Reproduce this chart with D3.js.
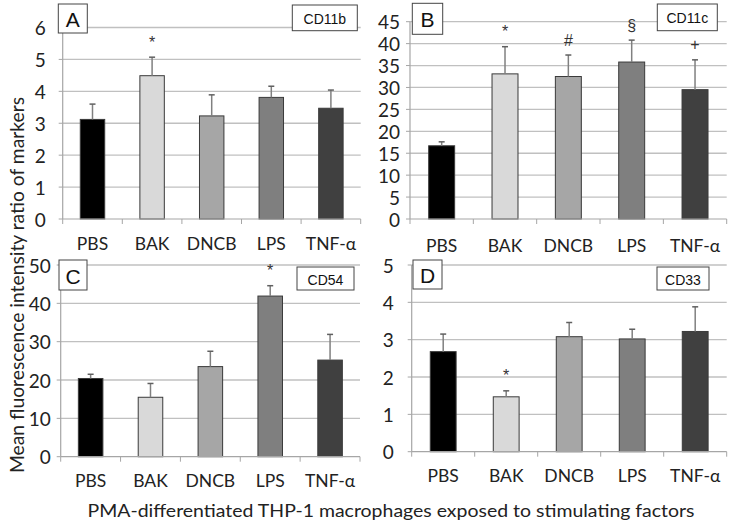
<!DOCTYPE html>
<html><head><meta charset="utf-8">
<script src="https://cdn.jsdelivr.net/npm/d3@7"></script>
<style>body{margin:0;background:#fff}svg{display:block}</style>
</head><body>
<svg id="chart" width="734" height="529"></svg>
<script>
const categories = ["PBS", "BAK", "DNCB", "LPS", "TNF-α"];
const barColors = ["#000000", "#d9d9d9", "#a6a6a6", "#7f7f7f", "#404040"];

const cd11bMean = [3.12, 4.49, 3.23, 3.81, 3.47];
const cd11bErr  = [0.48, 0.58, 0.66, 0.35, 0.57];
const cd11bSig  = ["", "*", "", "", ""];

const cd11cMean = [16.7, 33.1, 32.5, 35.8, 29.5];
const cd11cErr  = [0.9, 6.2, 4.9, 5.0, 6.8];
const cd11cSig  = ["", "*", "#", "§", "+"];

const cd54Mean = [20.4, 15.5, 23.5, 41.9, 25.2];
const cd54Err  = [1.1, 3.6, 4.0, 2.7, 6.7];
const cd54Sig  = ["", "", "", "*", ""];

const cd33Mean = [2.68, 1.47, 3.08, 3.02, 3.22];
const cd33Err  = [0.47, 0.16, 0.38, 0.26, 0.66];
const cd33Sig  = ["", "*", "", "", ""];

const yTicksA = [0, 1, 2, 3, 4, 5, 6];
const yTicksB = [0, 5, 10, 15, 20, 25, 30, 35, 40, 45];
const yTicksC = [0, 10, 20, 30, 40, 50];
const yTicksD = [0, 1, 2, 3, 4, 5];

const yTitle = "Mean fluorescence intensity ratio of markers";
const xTitle = "PMA-differentiated THP-1 macrophages exposed to stimulating factors";

const panels = [
  {letter: "A", marker: "CD11b", mean: cd11bMean, err: cd11bErr, sig: cd11bSig, ticks: yTicksA,
   x0: 62.7, x1: 360.7, yTop: 27.5, y0: 219, lblGap: 17, catDy: 24,
   lbox: [58.3, 4, 29, 29], mbox: [292.3, 5, 65, 25.7]},
  {letter: "B", marker: "CD11c", mean: cd11cMean, err: cd11cErr, sig: cd11cSig, ticks: yTicksB,
   x0: 410, x1: 726.7, yTop: 21.7, y0: 219, lblGap: 10, catDy: 26,
   lbox: [412.3, 3.3, 30.4, 31], mbox: [657.3, 4, 60, 26.7]},
  {letter: "C", marker: "CD54", mean: cd54Mean, err: cd54Err, sig: cd54Sig, ticks: yTicksC,
   x0: 60.7, x1: 360, yTop: 265, y0: 456.7, lblGap: 10, catDy: 23.5,
   lbox: [59, 260, 28, 30], mbox: [297, 267, 57, 23]},
  {letter: "D", marker: "CD33", mean: cd33Mean, err: cd33Err, sig: cd33Sig, ticks: yTicksD,
   x0: 411.7, x1: 726.7, yTop: 265, y0: 451.7, lblGap: 18, catDy: 23.5,
   lbox: [413, 260, 29, 29], mbox: [657, 267, 52, 23]}
];

const svg = d3.select("#chart");
const font = "Lato, 'Open Sans', sans-serif";

panels.forEach(p => {
  const x = d3.scaleBand().domain(categories).range([p.x0, p.x1]).padding(0);
  const y = d3.scaleLinear().domain([0, d3.max(p.ticks)]).range([p.y0, p.yTop]);
  const g = svg.append("g");
  const bw = x.bandwidth() * 0.41;

  g.selectAll("line.grid").data(p.ticks.filter(t => t > 0)).join("line")
    .attr("x1", p.x0).attr("x2", p.x1)
    .attr("y1", d => y(d)).attr("y2", d => y(d))
    .attr("stroke", "#c0c0c0").attr("stroke-width", 1.3);

  g.append("line").attr("x1", p.x0).attr("x2", p.x0).attr("y1", p.yTop).attr("y2", p.y0)
    .attr("stroke", "#a6a6a6").attr("stroke-width", 1.2);
  g.selectAll("line.ytick").data(p.ticks).join("line")
    .attr("x1", p.x0 - 4).attr("x2", p.x0)
    .attr("y1", d => y(d)).attr("y2", d => y(d))
    .attr("stroke", "#a6a6a6").attr("stroke-width", 1);
  g.selectAll("text.ylab").data(p.ticks).join("text")
    .attr("x", p.x0 - p.lblGap).attr("y", d => y(d))
    .attr("text-anchor", "end").attr("dominant-baseline", "central")
    .attr("font-family", font).attr("font-size", 19).attr("fill", "#222")
    .text(d => d);

  g.selectAll("rect.bar").data(categories).join("rect")
    .attr("x", d => x(d) + x.bandwidth() / 2 - bw / 2)
    .attr("width", bw)
    .attr("y", (d, i) => y(p.mean[i]))
    .attr("height", (d, i) => p.y0 - y(p.mean[i]))
    .attr("fill", (d, i) => barColors[i])
    .attr("stroke", "#3a3a3a").attr("stroke-width", 1);

  g.selectAll("line.err").data(categories).join("line")
    .attr("x1", d => x(d) + x.bandwidth() / 2).attr("x2", d => x(d) + x.bandwidth() / 2)
    .attr("y1", (d, i) => y(p.mean[i])).attr("y2", (d, i) => y(p.mean[i] + p.err[i]))
    .attr("stroke", "#808080").attr("stroke-width", 1.5);
  g.selectAll("line.cap").data(categories).join("line")
    .attr("x1", d => x(d) + x.bandwidth() / 2 - 3).attr("x2", d => x(d) + x.bandwidth() / 2 + 3)
    .attr("y1", (d, i) => y(p.mean[i] + p.err[i])).attr("y2", (d, i) => y(p.mean[i] + p.err[i]))
    .attr("stroke", "#606060").attr("stroke-width", 1.5);

  g.selectAll("text.sig").data(categories).join("text")
    .attr("x", d => x(d) + x.bandwidth() / 2)
    .attr("y", (d, i) => y(p.mean[i] + p.err[i]) - 15)
    .attr("text-anchor", "middle").attr("dominant-baseline", "central")
    .attr("font-family", "'Liberation Sans', Arial, sans-serif").attr("font-size", 16).attr("fill", "#333")
    .text((d, i) => p.sig[i]);

  g.append("line").attr("x1", p.x0).attr("x2", p.x1).attr("y1", p.y0).attr("y2", p.y0)
    .attr("stroke", "#a6a6a6").attr("stroke-width", 1.2);
  const bounds = categories.map(c => x(c)).concat([p.x1]);
  g.selectAll("line.xtick").data(bounds).join("line")
    .attr("x1", d => d).attr("x2", d => d).attr("y1", p.y0).attr("y2", p.y0 + 5)
    .attr("stroke", "#a6a6a6").attr("stroke-width", 1);
  g.selectAll("text.xlab").data(categories).join("text")
    .attr("x", d => x(d) + x.bandwidth() / 2).attr("y", p.y0 + p.catDy)
    .attr("text-anchor", "middle").attr("dominant-baseline", "central")
    .attr("font-family", font).attr("font-size", 17.5).attr("fill", "#222")
    .text(d => d);

  g.append("rect").attr("x", p.lbox[0]).attr("y", p.lbox[1]).attr("width", p.lbox[2]).attr("height", p.lbox[3])
    .attr("fill", "#fff").attr("stroke", "#444").attr("stroke-width", 1);
  g.append("text").attr("x", p.lbox[0] + p.lbox[2] / 2).attr("y", p.lbox[1] + p.lbox[3] / 2 + 1)
    .attr("text-anchor", "middle").attr("dominant-baseline", "central")
    .attr("font-family", "'Liberation Sans', Arial, sans-serif").attr("font-size", 21).attr("fill", "#111")
    .text(p.letter);

  g.append("rect").attr("x", p.mbox[0]).attr("y", p.mbox[1]).attr("width", p.mbox[2]).attr("height", p.mbox[3])
    .attr("fill", "#fff").attr("stroke", "#444").attr("stroke-width", 1);
  g.append("text").attr("x", p.mbox[0] + p.mbox[2] / 2).attr("y", p.mbox[1] + p.mbox[3] / 2 + 1)
    .attr("text-anchor", "middle").attr("dominant-baseline", "central")
    .attr("font-family", "'Liberation Sans', Arial, sans-serif").attr("font-size", 14).attr("fill", "#111")
    .text(p.marker);
});

svg.append("text")
  .attr("transform", "translate(16,285) rotate(-90)")
  .attr("text-anchor", "middle").attr("dominant-baseline", "central")
  .attr("font-family", font).attr("font-size", 19).attr("fill", "#222")
  .attr("textLength", 376).attr("lengthAdjust", "spacingAndGlyphs")
  .text(yTitle);
svg.append("text")
  .attr("x", 391).attr("y", 510)
  .attr("text-anchor", "middle").attr("dominant-baseline", "central")
  .attr("font-family", font).attr("font-size", 18).attr("fill", "#222")
  .attr("textLength", 607).attr("lengthAdjust", "spacingAndGlyphs")
  .text(xTitle);
</script>
</body></html>
